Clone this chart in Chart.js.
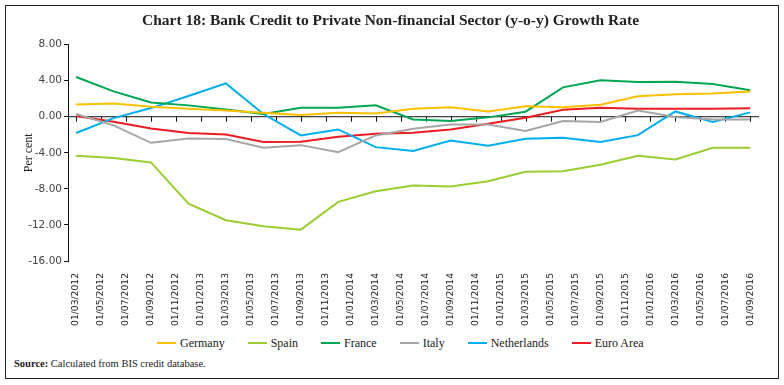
<!DOCTYPE html>
<html>
<head>
<meta charset="utf-8">
<script src="https://cdn.jsdelivr.net/npm/chart.js@4/dist/chart.umd.min.js"></script>
<style>
  body { margin: 0; background: #fff; }
  #frame {
    position: absolute; left: 5px; top: 5px; width: 774px; height: 374px;
    box-sizing: border-box; border: 1px solid #222;
  }
  #wrap { position: absolute; left: 0; top: 0; width: 784px; height: 330px; }
  #legend {
    position: absolute; left: 157px; top: 335px; white-space: nowrap;
    font: 12px "Liberation Serif", serif; color: #222; line-height: 16px;
  }
  #legend span.item { display: inline-block; margin-right: 23px; }
  #legend span.mark {
    display: inline-block; width: 19px; height: 2px; vertical-align: middle;
    margin-right: 4px; position: relative; top: -1px;
  }
  #source {
    position: absolute; left: 14px; top: 358px;
    font: 10.5px "Liberation Serif", serif; color: #222;
  }
</style>
</head>
<body>
<div id="frame"></div>
<div id="wrap"><canvas id="chart"></canvas></div>
<div id="legend"></div>
<div id="source"><b>Source:</b> Calculated from BIS credit database.</div>
<script>
// tick labels on the date axis (every 2 months)
const tickLabels = [
  '01/03/2012', '01/05/2012', '01/07/2012', '01/09/2012', '01/11/2012',
  '01/01/2013', '01/03/2013', '01/05/2013', '01/07/2013', '01/09/2013', '01/11/2013',
  '01/01/2014', '01/03/2014', '01/05/2014', '01/07/2014', '01/09/2014', '01/11/2014',
  '01/01/2015', '01/03/2015', '01/05/2015', '01/07/2015', '01/09/2015', '01/11/2015',
  '01/01/2016', '01/03/2016', '01/05/2016', '01/07/2016', '01/09/2016'
]

// quarterly observation dates
const quarters = [
  '01/03/2012', '01/06/2012', '01/09/2012', '01/12/2012',
  '01/03/2013', '01/06/2013', '01/09/2013', '01/12/2013',
  '01/03/2014', '01/06/2014', '01/09/2014', '01/12/2014',
  '01/03/2015', '01/06/2015', '01/09/2015', '01/12/2015',
  '01/03/2016', '01/06/2016', '01/09/2016'
]

const germany = [1.37, 1.48, 1.11, 0.89, 0.70, 0.44, 0.19, 0.44, 0.37, 0.89, 1.04, 0.59, 1.15, 1.04, 1.33, 2.26, 2.48, 2.59, 2.81]
const spain = [-4.33, -4.59, -5.07, -9.63, -11.48, -12.15, -12.52, -9.44, -8.26, -7.63, -7.74, -7.15, -6.11, -6.04, -5.33, -4.33, -4.74, -3.44, -3.44]
const france = [4.41, 2.81, 1.59, 1.26, 0.81, 0.30, 1.00, 1.00, 1.26, -0.30, -0.48, -0.07, 0.56, 3.26, 4.04, 3.85, 3.89, 3.63, 2.93]
const italy = [0.30, -0.96, -2.89, -2.41, -2.48, -3.44, -3.15, -3.93, -2.07, -1.33, -0.85, -0.85, -1.59, -0.48, -0.59, 0.70, -0.04, -0.30, -0.30]
const netherlands = [-1.81, -0.15, 0.96, 2.30, 3.70, 0.30, -2.07, -1.41, -3.37, -3.81, -2.63, -3.22, -2.44, -2.33, -2.81, -2.04, 0.59, -0.59, 0.48]
const euroArea = [0.07, -0.56, -1.30, -1.81, -1.96, -2.81, -2.78, -2.22, -1.89, -1.78, -1.41, -0.78, -0.11, 0.78, 1.00, 0.89, 0.89, 0.89, 0.93]

const yTicks = [8, 4, 0, -4, -8, -12, -16]

// months since 01/03/2012
function monthIndex(d) {
  const p = d.split('/')
  return (Number(p[2]) - 2012) * 12 + (Number(p[1]) - 3)
}

function series(label, values, color) {
  return {
    label: label,
    data: values.map((v, i) => ({ x: monthIndex(quarters[i]), y: v })),
    borderColor: color,
    backgroundColor: color,
    borderWidth: 2,
    pointRadius: 0,
    tension: 0
  }
}

// zero line with small tick marks, like the original axis
const zeroAxis = {
  id: 'zeroAxis',
  beforeDatasetsDraw(chart) {
    const ctx = chart.ctx
    const x = chart.scales.x
    const y0 = chart.scales.y.getPixelForValue(0)
    ctx.save()
    ctx.strokeStyle = '#111'
    ctx.lineWidth = 1
    ctx.beginPath()
    ctx.moveTo(chart.chartArea.left, y0)
    ctx.lineTo(chart.chartArea.right, y0)
    x.ticks.forEach(t => {
      const px = Math.round(x.getPixelForValue(t.value)) + 0.5
      ctx.moveTo(px, y0)
      ctx.lineTo(px, y0 + 5)
    })
    ctx.stroke()
    ctx.restore()
  }
}

const ctx = document.getElementById('chart').getContext('2d')
const chart = new Chart(ctx, {
  type: 'line',
  data: {
    datasets: [
      series('Germany', germany, '#FFC000'),
      series('Spain', spain, '#9ACD32'),
      series('France', france, '#00A651'),
      series('Italy', italy, '#A6A6A6'),
      series('Netherlands', netherlands, '#00AEEF'),
      series('Euro Area', euroArea, '#ED1C24')
    ]
  },
  options: {
    responsive: true,
    maintainAspectRatio: false,
    animation: false,
    layout: { padding: { left: 22, right: 25, top: 4, bottom: 0 } },
    plugins: {
      title: {
        display: true,
        text: 'Chart 18: Bank Credit to Private Non-financial Sector (y-o-y) Growth Rate',
        font: { family: 'Liberation Serif', size: 15.5, weight: 'bold' },
        color: '#222',
        padding: { top: 8, bottom: 14 }
      },
      legend: { display: false },
      tooltip: { enabled: false }
    },
    scales: {
      x: {
        type: 'linear',
        min: -0.65,
        max: 54.7,
        afterBuildTicks(scale) {
          scale.ticks = tickLabels.map(l => ({ value: monthIndex(l) }))
        },
        afterFit(scale) { scale.height = 69 },
        ticks: {
          autoSkip: false,
          minRotation: 90,
          maxRotation: 90,
          padding: 4,
          font: { family: 'DejaVu Sans', size: 9.2 },
          color: '#222',
          callback: (v, i) => tickLabels[i]
        },
        grid: { display: false },
        border: { display: false }
      },
      y: {
        min: -16,
        max: 8,
        afterBuildTicks(scale) {
          scale.ticks = yTicks.map(v => ({ value: v }))
        },
        afterFit(scale) { scale.width = 46 },
        title: {
          display: true,
          text: 'Per cent',
          font: { family: 'Liberation Serif', size: 12 },
          color: '#222',
          padding: 0
        },
        ticks: {
          padding: 2,
          font: { family: 'DejaVu Sans', size: 10.5 },
          color: '#444',
          callback: v => v.toFixed(2)
        },
        grid: { drawOnChartArea: false, drawTicks: true, tickLength: 4, color: '#111' },
        border: { display: true, color: '#111' }
      }
    }
  },
  plugins: [zeroAxis]
})

// legend as html, built from the chart's datasets
const legendBox = document.getElementById('legend')
chart.data.datasets.forEach(ds => {
  const item = document.createElement('span')
  item.className = 'item'
  const mark = document.createElement('span')
  mark.className = 'mark'
  mark.style.background = ds.borderColor
  item.appendChild(mark)
  item.appendChild(document.createTextNode(ds.label))
  legendBox.appendChild(item)
})
</script>
</body>
</html>
